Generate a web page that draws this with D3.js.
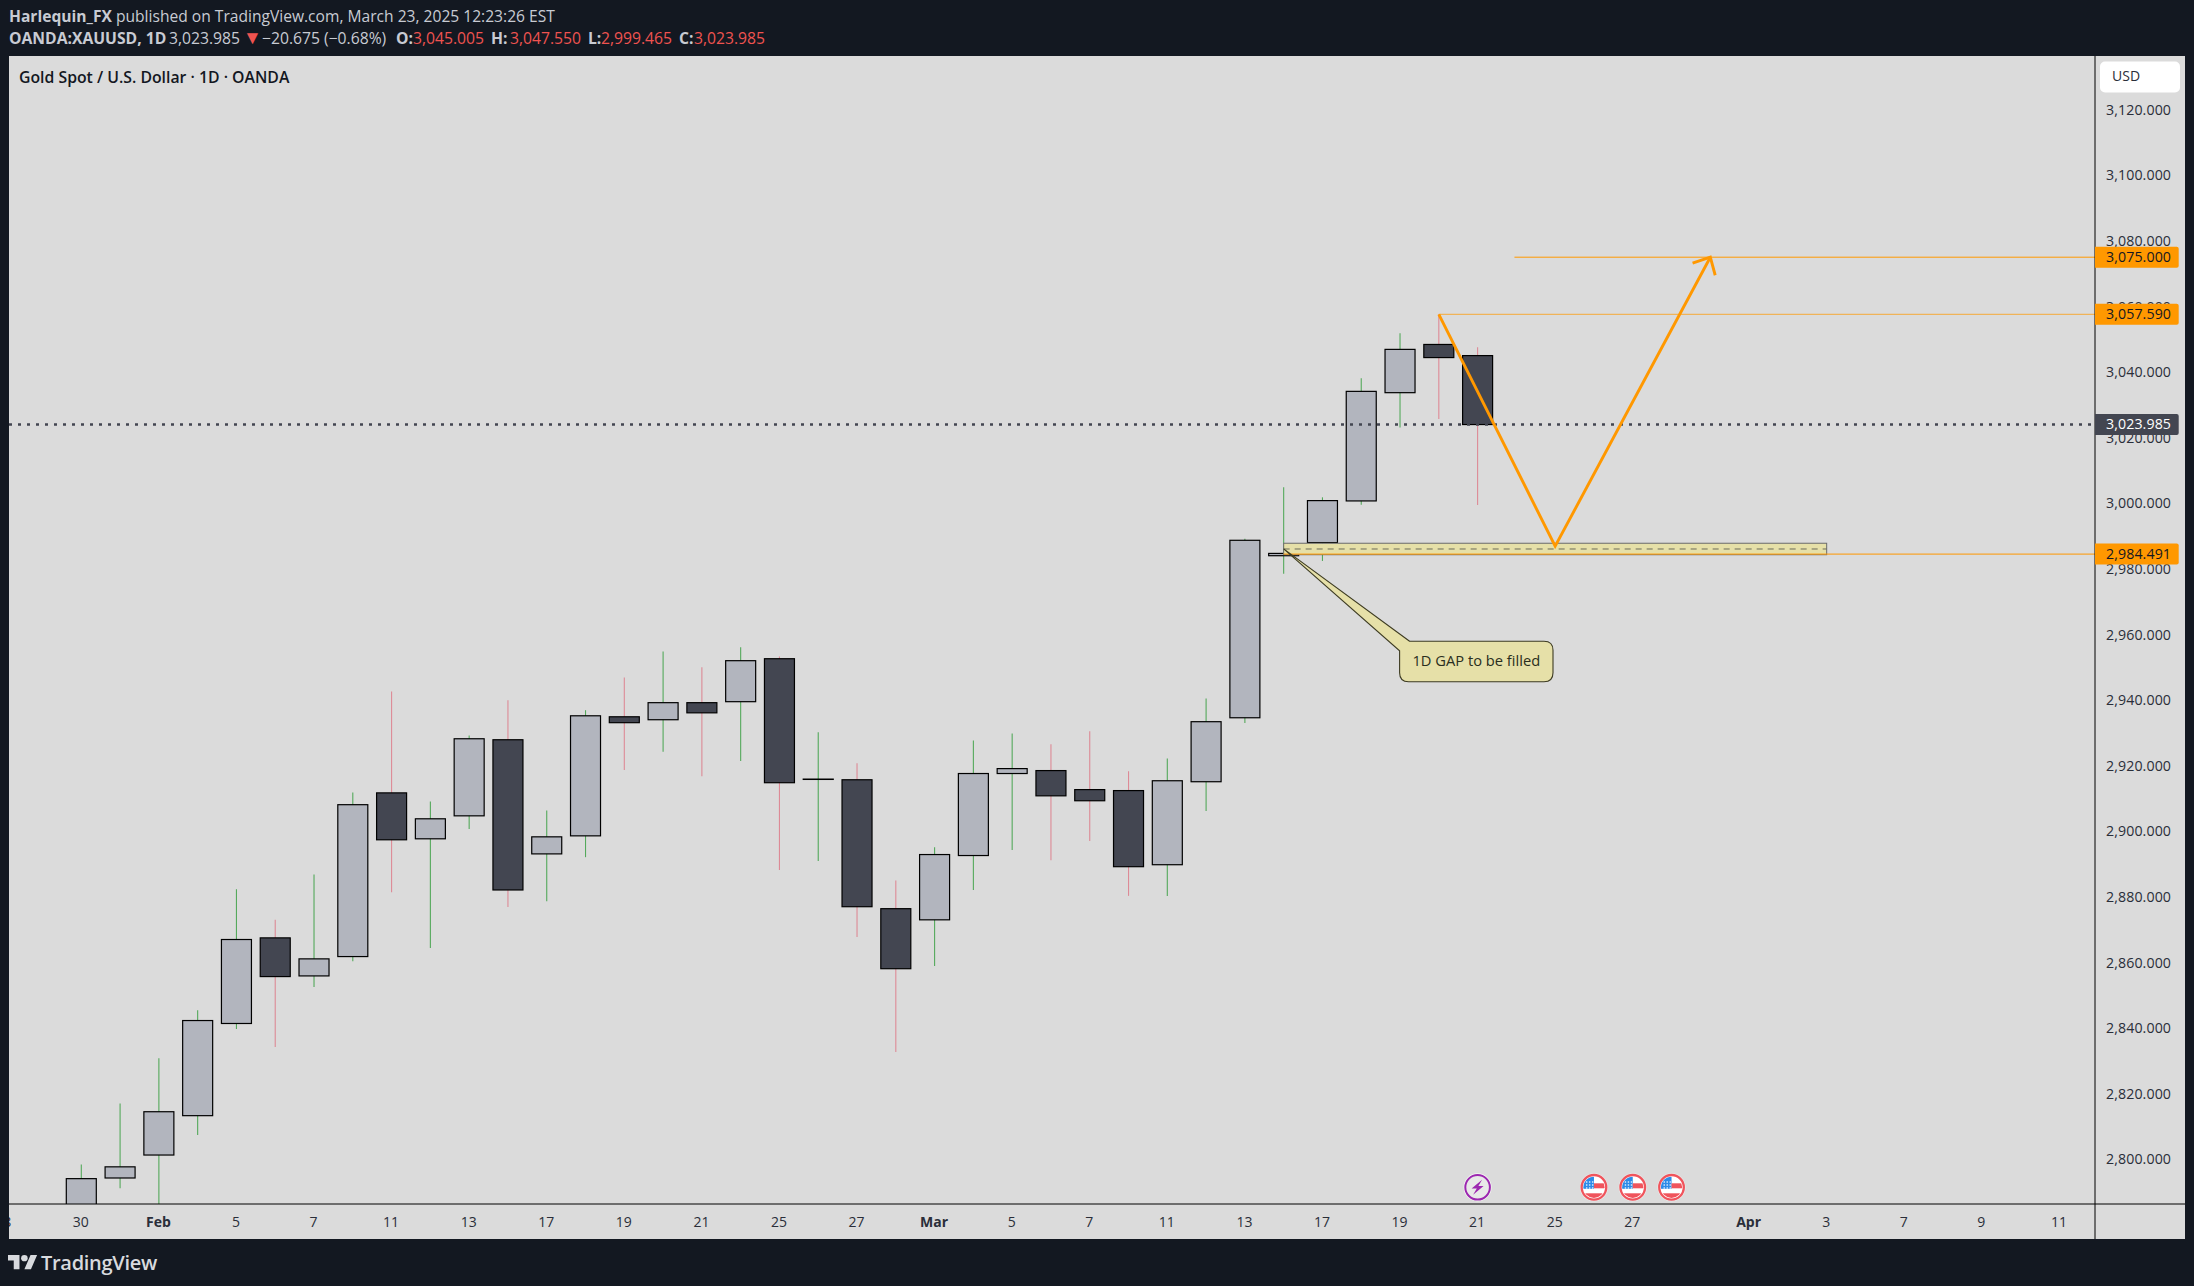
<!DOCTYPE html>
<html><head><meta charset="utf-8">
<script src="https://cdn.jsdelivr.net/npm/d3@7"></script>
<style>html,body{margin:0;padding:0;background:#131821}svg{display:block}text{font-family:"Open Sans",sans-serif}</style>
</head><body><svg id="c" width="2194" height="1286"></svg>
<script>
// ---- data ----
const sessions = ["Jan 30","Jan 31","Feb 3","Feb 4","Feb 5","Feb 6","Feb 7","Feb 10","Feb 11","Feb 12","Feb 13","Feb 14","Feb 17","Feb 18","Feb 19","Feb 20","Feb 21","Feb 24","Feb 25","Feb 26","Feb 27","Feb 28","Mar 3","Mar 4","Mar 5","Mar 6","Mar 7","Mar 10","Mar 11","Mar 12","Mar 13","Mar 14","Mar 17","Mar 18","Mar 19","Mar 20","Mar 21"];
const opens  = [2757,2794.3,2801.3,2813.3,2841.4,2867.5,2855.9,2861.8,2911.7,2897.7,2904.7,2927.9,2893.1,2898.6,2934.9,2934.0,2939.2,2939.5,2952.6,2915.8,2915.7,2876.4,2873.0,2892.6,2917.6,2918.5,2912.7,2912.4,2889.8,2915.1,2934.6,2984.0,2988.0,3000.7,3033.7,3048.4,3045.005];
const highs  = [2798.4,2817.0,2830.8,2845.4,2882.3,2873.0,2886.8,2911.8,2942.6,2909.1,2929.2,2939.9,2906.3,2936.9,2946.9,2954.8,2950.0,2956.1,2953.3,2930.2,2920.7,2885.0,2895.1,2927.7,2929.8,2926.5,2930.5,2918.3,2922.2,2940.5,2989.2,3004.9,3001.8,3038.1,3051.8,3057.59,3047.55];
const lows   = [2750,2791.2,2772,2807.4,2839.7,2834.2,2852.5,2860.4,2881.4,2864.4,2900.7,2876.9,2878.7,2892.1,2918.7,2924.2,2916.8,2921.4,2888.2,2890.9,2867.8,2832.7,2858.9,2882.1,2894.3,2891.2,2897.0,2880.3,2880.3,2906.2,2933.0,2978.5,2982.4,2999.5,3023.1,3025.7,2999.465];
const closes = [2794.1,2797.7,2814.5,2842.3,2867.0,2855.7,2861.1,2908.1,2897.4,2903.8,2928.2,2882.1,2898.3,2935.2,2933.1,2939.2,2936.1,2952.0,2914.8,2915.9,2877.0,2858.1,2892.9,2917.6,2919.1,2910.8,2909.3,2889.2,2915.4,2933.4,2988.7,2984.7,3000.8,3034.1,3046.9,3044.4,3023.985];
const priceTicks = [3120,3100,3080,3060,3040,3020,3000,2980,2960,2940,2920,2900,2880,2860,2840,2820,2800];
const timeTicks = [[-2,"28"],[0,"30"],[2,"Feb"],[4,"5"],[6,"7"],[8,"11"],[10,"13"],[12,"17"],[14,"19"],[16,"21"],[18,"25"],[20,"27"],[22,"Mar"],[24,"5"],[26,"7"],[28,"11"],[30,"13"],[32,"17"],[34,"19"],[36,"21"],[38,"25"],[40,"27"],[43,"Apr"],[45,"3"],[47,"7"],[49,"9"],[51,"11"]];
const boldTicks = ["Feb","Mar","Apr"];
const targetPrice = 3075, swingHigh = 3057.59, lastPrice = 3023.985, gapLow = 2984.491;
const zoneTop = 2987.8, zoneBottom = 2984.3;
const zigzag = [[35,3057.59],[38,2986.9],[42,3075]];
const zoneSpan = [31,45];
const flagEvents = [39,40,41];
const boltEvents = [36];
const calloutTip = [31,2986.1];
const calloutText = "1D GAP to be filled";

const W=2194,H=1286, L=9,R=2095,T=56,B=1204,RE=2185,BE=1239;
const svg=d3.select("#c");
const x=d3.scaleLinear().domain([0,36]).range([81.3,1477.6]);
const y=d3.scaleLinear().domain([3075,2984.491]).range([257.2,554.1]);
const orange="#ff9800", dark="#434651", light="#b2b5be", paper="#e6e0a8";

svg.append("rect").attr("width",W).attr("height",H).attr("fill","#131821");
svg.append("rect").attr("x",L).attr("y",T).attr("width",RE-L).attr("height",BE-T).attr("fill","#dbdbdb");
const defs=svg.append("defs");
defs.append("clipPath").attr("id","plot").append("rect").attr("x",L).attr("y",T).attr("width",R-L).attr("height",B-T);
defs.append("clipPath").attr("id","tax").append("rect").attr("x",L).attr("y",B).attr("width",R-L).attr("height",BE-B);

// price axis
const ya=svg.append("g").attr("transform",`translate(${R},0)`)
  .call(d3.axisRight(y).tickValues(priceTicks).tickSize(0).tickPadding(11).tickFormat(d3.format(",.3f")));
ya.select(".domain").remove();
ya.selectAll("text").attr("fill","#2a2e39").attr("dy","0.33em").attr("letter-spacing","0.1").style("font-family","'Open Sans'").style("font-size","14.2px");

// time axis
const xa=svg.append("g").attr("clip-path","url(#tax)").append("g").attr("transform",`translate(0,${B})`);
xa.call(d3.axisBottom(x).tickValues(timeTicks.map(d=>d[0])).tickSize(0).tickPadding(0)
  .tickFormat(d=>timeTicks.find(t=>t[0]===d)[1]));
xa.select(".domain").remove();
xa.selectAll("text").attr("x",-1).attr("y",17.8).attr("dy","0.35em").attr("fill","#2a2e39").style("font-family","'Open Sans'").style("font-size","14px")
  .attr("font-weight",d=>{const s=timeTicks.find(t=>t[0]===d)[1];return boldTicks.includes(s)?700:400});

const plot=svg.append("g").attr("clip-path","url(#plot)");
const idx=d3.range(sessions.length);
// wicks
plot.selectAll(".w").data(idx).join("line").attr("class","w")
  .attr("x1",i=>x(i)).attr("x2",i=>x(i)).attr("y1",i=>y(highs[i])).attr("y2",i=>y(lows[i]))
  .attr("stroke",i=>closes[i]>=opens[i]?"#54a95b":"#dd8a96").attr("stroke-width",1.1);
// bodies
plot.selectAll(".b").data(idx).join("rect").attr("class","b")
  .attr("x",i=>x(i)-15).attr("width",30)
  .attr("y",i=>y(Math.max(opens[i],closes[i])))
  .attr("height",i=>Math.abs(y(opens[i])-y(closes[i])))
  .attr("fill",i=>closes[i]>=opens[i]?light:dark).attr("stroke","#000").attr("stroke-width",1.2);

// last price dotted
plot.append("line").attr("x1",L).attr("x2",R).attr("y1",y(lastPrice)).attr("y2",y(lastPrice))
  .attr("stroke",dark).attr("stroke-width",2.6).attr("stroke-dasharray","3 6");

// gap zone
plot.append("rect").attr("x",x(zoneSpan[0])).attr("width",x(zoneSpan[1])-x(zoneSpan[0]))
  .attr("y",y(zoneTop)).attr("height",y(zoneBottom)-y(zoneTop)).attr("fill",paper).attr("stroke","#6b6b6b").attr("stroke-width",1);
plot.append("line").attr("x1",x(zoneSpan[0])).attr("x2",x(zoneSpan[1]))
  .attr("y1",y((zoneTop+zoneBottom)/2)).attr("y2",y((zoneTop+zoneBottom)/2))
  .attr("stroke","#6b6b5a").attr("stroke-width",1).attr("stroke-dasharray","6 5");

// horizontal levels
const levels=[[targetPrice,36.95,1],[swingHigh,35,0.75],[gapLow,31,1]];
plot.selectAll(".lv").data(levels).join("line").attr("class","lv")
  .attr("x1",d=>x(d[1])).attr("x2",R).attr("y1",d=>y(d[0])).attr("y2",d=>y(d[0]))
  .attr("stroke",orange).attr("stroke-width",d=>d[2]);

// zig-zag with arrow
const lineGen=d3.line().x(d=>x(d[0])).y(d=>y(d[1]));
plot.append("path").attr("d",lineGen(zigzag)).attr("fill","none").attr("stroke",orange)
  .attr("stroke-width",2.9).attr("stroke-linejoin","miter");
const tip=zigzag[2], prev=zigzag[1];
const ang=Math.atan2(y(tip[1])-y(prev[1]),x(tip[0])-x(prev[0]));
const a1=ang+Math.PI-0.757, a2=ang-Math.PI+0.757, len=18.7;
const tx=x(tip[0]),ty=y(tip[1]);
plot.append("path").attr("d",`M${tx+len*Math.cos(a1)},${ty+len*Math.sin(a1)}L${tx},${ty}L${tx+len*Math.cos(a2)},${ty+len*Math.sin(a2)}`)
  .attr("fill","none").attr("stroke",orange).attr("stroke-width",2.9);

// callout
const bx0=1399.6,bx1=1553,by0=641.3,by1=681.7,r=9,px=x(calloutTip[0]),py=y(calloutTip[1]);
plot.append("path").attr("d",`M${bx0+r+1},${by0}L${px},${py}L${bx0},${by0+9.5}L${bx0},${by1-r}Q${bx0},${by1} ${bx0+r},${by1}L${bx1-r},${by1}Q${bx1},${by1} ${bx1},${by1-r}L${bx1},${by0+r}Q${bx1},${by0} ${bx1-r},${by0}Z`)
  .attr("fill",paper).attr("stroke","#3d3b22").attr("stroke-width",1.1);
plot.append("text").attr("x",(bx0+bx1)/2).attr("y",661).attr("dy","0.35em").attr("text-anchor","middle")
  .attr("font-size",14.7).attr("fill","#2a2e20").text(calloutText);

// events
const evY=1187.3;
function bolt(g){
  g.append("circle").attr("r",14).attr("fill","#fff").attr("fill-opacity",0.75);
  g.append("circle").attr("r",12.3).attr("fill","#e8e8e8").attr("stroke","#9c27b0").attr("stroke-width",2);
  g.append("path").attr("d","M4.5,-7.5L-6,1.2H-0.8L-4.5,7.5L6,-1.2H0.8Z").attr("fill","#9c27b0");
}
defs.append("clipPath").attr("id","flagClip").append("circle").attr("r",10.6);
function flag(g){
  g.append("circle").attr("r",14).attr("fill","#fff").attr("fill-opacity",0.5);
  g.append("circle").attr("r",12.3).attr("fill","#fff").attr("stroke","#f0545c").attr("stroke-width",2.3);
  const f=g.append("g").attr("clip-path","url(#flagClip)");
  f.append("rect").attr("x",-11).attr("y",-11).attr("width",11).attr("height",12.5).attr("fill","#2d8be8");
  f.append("rect").attr("x",0).attr("y",-4).attr("width",11).attr("height",5).attr("fill","#f0545c");
  f.append("rect").attr("x",-11).attr("y",6).attr("width",22).attr("height",5).attr("fill","#f0545c");
  [-8,-5,-2].forEach(a=>[-6,-3,0].forEach(b=>f.append("rect").attr("x",a).attr("y",b).attr("width",1.4).attr("height",1.4).attr("fill","#e4f1fd")));
}
plot.selectAll(".ev1").data(boltEvents).join("g").attr("transform",d=>`translate(${x(d)},${evY})`).each(function(){bolt(d3.select(this))});
plot.selectAll(".ev2").data(flagEvents).join("g").attr("transform",d=>`translate(${x(d)},${evY})`).each(function(){flag(d3.select(this))});

// axis frame lines
svg.append("line").attr("x1",R).attr("x2",R).attr("y1",T).attr("y2",BE).attr("stroke","#000").attr("stroke-width",1);
svg.append("line").attr("x1",L).attr("x2",RE).attr("y1",B).attr("y2",B).attr("stroke","#000").attr("stroke-width",1);

// USD box
svg.append("rect").attr("x",2100).attr("y",61.5).attr("width",80).attr("height",31).attr("rx",5).attr("fill","#fff");
svg.append("text").attr("x",2112).attr("y",76).attr("dy","0.35em").attr("font-size",14).attr("fill","#2a2e39").text("USD");

// price tags
const tags=[[targetPrice,orange,"#131722"],[swingHigh,orange,"#131722"],[lastPrice,dark,"#fff"],[gapLow,orange,"#131722"]];
const fmt=d3.format(",.3f");
const tg=svg.selectAll(".tag").data(tags).join("g").attr("class","tag").attr("transform",d=>`translate(${R},${y(d[0])})`);
tg.append("path").attr("d","M0,-10.5H81.7a2,2 0 0 1 2,2V8.5a2,2 0 0 1 -2,2H0Z").attr("fill",d=>d[1]);
tg.append("text").attr("x",11).attr("dy","0.33em").attr("letter-spacing","0.1").style("font-family","'Open Sans'").attr("font-size",14.2).attr("fill",d=>d[2]).text(d=>fmt(d[0]));

// title
svg.append("text").attr("x",19).attr("y",77).attr("dy","0.35em").attr("font-size",15.8).attr("font-weight",600).attr("fill","#131722").text("Gold Spot / U.S. Dollar · 1D · OANDA");

// header
const hc="#c8cbd3";
const h1=svg.append("text").attr("x",9).attr("y",17).attr("dy","0.35em").attr("font-size",15.6).attr("fill",hc);
h1.append("tspan").attr("font-weight",700).text("Harlequin_FX");
h1.append("tspan").text(" published on TradingView.com, March 23, 2025 12:23:26 EST");
const seg=[[9,"OANDA:XAUUSD, 1D",700,hc,15.7],[169,"3,023.985",400,hc,15.7],[243,"▼",400,"#ef5350",19],[262,"−20.675 (−0.68%)",400,hc,15.7],
 [396,"O:",700,hc,15.7],[413,"3,045.005",400,"#ef5350",15.7],[491,"H:",700,hc,15.7],[510,"3,047.550",400,"#ef5350",15.7],[588,"L:",700,hc,15.7],[601,"2,999.465",400,"#ef5350",15.7],[679,"C:",700,hc,15.7],[694,"3,023.985",400,"#ef5350",15.7]];
const h2=svg.append("text").attr("y",38.5).attr("dy","0.35em");
seg.forEach(s=>h2.append("tspan").attr("x",s[0]).attr("font-weight",s[2]).attr("fill",s[3]).attr("font-size",s[4]).text(s[1]));

// logo
const lg=svg.append("g").attr("transform","translate(8,1252) scale(0.82,0.78)").attr("fill","#d8dade");
lg.append("path").attr("d","M14 22H7V11H0V4h14v18zM28 22h-8l7.5-18h8L28 22z");
lg.append("circle").attr("cx",20).attr("cy",8).attr("r",4);
svg.append("text").attr("x",41).attr("y",1263).attr("dy","0.35em").attr("font-size",20).attr("font-weight",600).attr("fill","#d8dade").attr("letter-spacing","-0.3").text("TradingView");
</script></body></html>
